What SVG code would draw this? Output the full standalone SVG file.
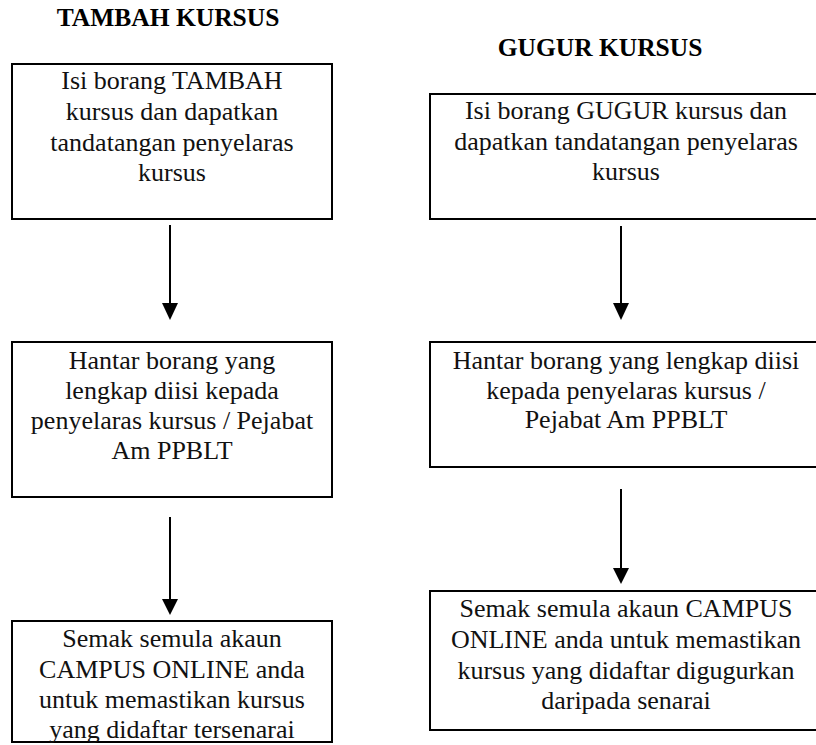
<svg xmlns="http://www.w3.org/2000/svg" width="816" height="745" viewBox="0 0 816 745">
<style>
.box{fill:#fff;stroke:#000;stroke-width:2}
.lbl{font-family:'Liberation Serif',serif;font-size:26px;font-weight:normal;fill:#111;text-anchor:middle}
.h{font-family:'Liberation Serif',serif;font-size:25.5px;font-weight:bold;fill:#000;text-anchor:middle}
.c{stroke:#000;stroke-width:2;fill:none}
.ah{fill:#000}
</style>
<rect width="816" height="745" fill="#fff"/>
<text class="h" x="168" y="26">TAMBAH KURSUS</text>
<text class="h" x="600" y="56">GUGUR KURSUS</text>
<g id="connectors">
<line class="c" x1="170" y1="225" x2="170" y2="305"/>
<polygon class="ah" points="162,303 178,303 170,320"/>
<line class="c" x1="170" y1="517" x2="170" y2="601"/>
<polygon class="ah" points="162,599 178,599 170,615"/>
<line class="c" x1="621" y1="226" x2="621" y2="305"/>
<polygon class="ah" points="613,303 629,303 621,320"/>
<line class="c" x1="621" y1="489" x2="621" y2="570"/>
<polygon class="ah" points="613,568 629,568 621,584"/>
</g>
<g id="tambah1" font-family="Liberation Serif, serif">
<rect class="box" x="12" y="64" width="320" height="155"/>
<text class="lbl" x="172" y="89">Isi borang TAMBAH</text>
<text class="lbl" x="172" y="120">kursus dan dapatkan</text>
<text class="lbl" x="172" y="151">tandatangan penyelaras</text>
<text class="lbl" x="172" y="181">kursus</text>
</g>
<g id="tambah2" font-family="Liberation Serif, serif">
<rect class="box" x="12" y="342" width="320" height="155"/>
<text class="lbl" x="172" y="369">Hantar borang yang</text>
<text class="lbl" x="172" y="399">lengkap diisi kepada</text>
<text class="lbl" x="172" y="429">penyelaras kursus / Pejabat</text>
<text class="lbl" x="172" y="459">Am PPBLT</text>
</g>
<g id="tambah3" font-family="Liberation Serif, serif">
<rect class="box" x="12" y="621" width="320" height="121"/>
<text class="lbl" x="172" y="647">Semak semula akaun</text>
<text class="lbl" x="172" y="678">CAMPUS ONLINE anda</text>
<text class="lbl" x="172" y="708">untuk memastikan kursus</text>
<text class="lbl" x="172" y="738">yang didaftar tersenarai</text>
</g>
<g id="gugur1" font-family="Liberation Serif, serif">
<rect class="box" x="430" y="94" width="392" height="125"/>
<text class="lbl" x="626" y="119">Isi borang GUGUR kursus dan</text>
<text class="lbl" x="626" y="150">dapatkan tandatangan penyelaras</text>
<text class="lbl" x="626" y="180">kursus</text>
</g>
<g id="gugur2" font-family="Liberation Serif, serif">
<rect class="box" x="430" y="342" width="392" height="125"/>
<text class="lbl" x="626" y="369">Hantar borang yang lengkap diisi</text>
<text class="lbl" x="626" y="399">kepada penyelaras kursus /</text>
<text class="lbl" x="626" y="428">Pejabat Am PPBLT</text>
</g>
<g id="gugur3" font-family="Liberation Serif, serif">
<rect class="box" x="430" y="591" width="392" height="139"/>
<text class="lbl" x="626" y="617">Semak semula akaun CAMPUS</text>
<text class="lbl" x="626" y="648">ONLINE anda untuk memastikan</text>
<text class="lbl" x="626" y="679">kursus yang didaftar digugurkan</text>
<text class="lbl" x="626" y="709">daripada senarai</text>
</g>
</svg>
